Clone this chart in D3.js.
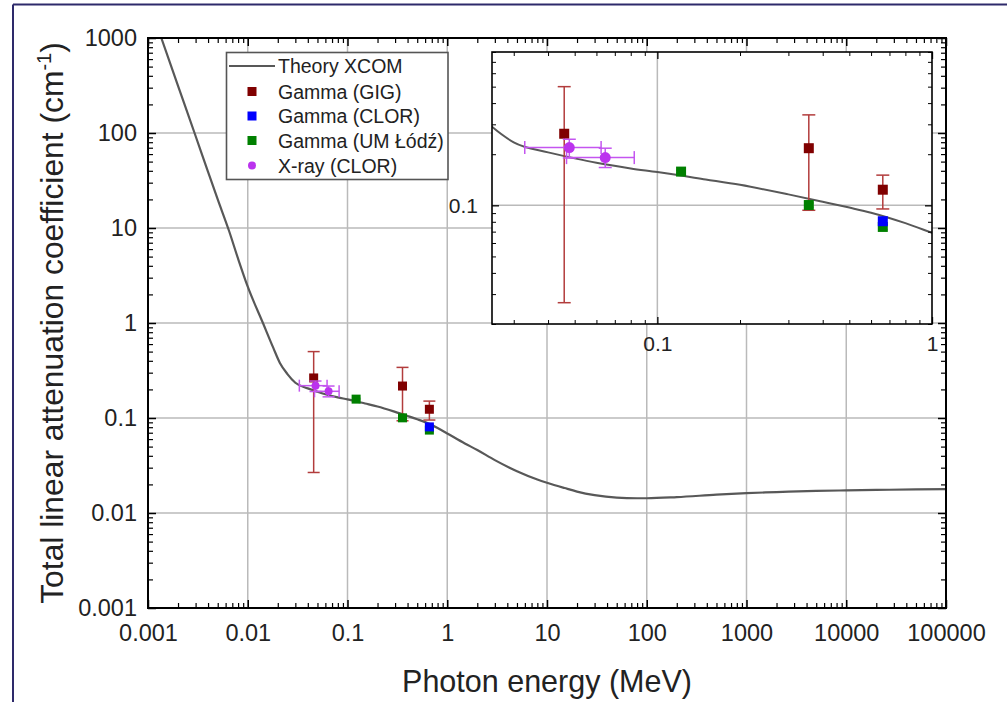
<!DOCTYPE html>
<html><head><meta charset="utf-8">
<script src="https://cdn.jsdelivr.net/npm/d3@7"></script>
<style>
body{margin:0;background:#fff}
text{font-family:Arial,"Liberation Sans",sans-serif;fill:#222}
</style>
</head><body>
<svg id="chart" width="1007" height="702"></svg>
<script>
// ---------- data ----------
const xcomEnergy = [0.00136,0.002,0.003,0.004,0.005,0.0065,0.008,0.01,0.0142,0.018,0.021,0.025,0.03,0.04,0.05,0.06,0.08,0.1,0.15,0.2,0.3,0.4,0.5,0.6,0.8,1,1.5,2,3,5,8,10,15,20,30,50,80,100,200,500,1000,2000,5000,10000,20000,50000,100000];
const xcomMu     = [1000,314,93,39,20,9.3,4.75,2.41,1.0,0.55,0.38,0.29,0.235,0.205,0.189,0.178,0.165,0.157,0.142,0.132,0.116,0.105,0.097,0.0905,0.0785,0.0688,0.054,0.046,0.036,0.0275,0.0225,0.0208,0.0183,0.0168,0.0154,0.0145,0.0143,0.0143,0.0147,0.0156,0.0162,0.0166,0.0171,0.0173,0.0175,0.0177,0.0178];

const gigEnergy = [0.0458,0.356,0.662];
const gigMu     = [0.264,0.217,0.1236];
const gigLow    = [0.0267,0.0935,0.0952];
const gigHigh   = [0.50,0.341,0.1506];

const clorEnergy = [0.662];
const clorMu     = [0.0806];
const clorLow    = [0.0770];
const clorHigh   = [0.0842];

const lodzEnergy = [0.122,0.356,0.662];
const lodzMu     = [0.158,0.1004,0.0746];
const lodzLow    = [0.155,0.0975,0.0720];
const lodzHigh   = [0.161,0.1033,0.0772];

const xrayEnergy = [0.0478,0.0646];
const xrayMu     = [0.219,0.191];
const xrayELow   = [0.0329,0.0467];
const xrayEHigh  = [0.0624,0.0824];
const xrayLow    = [0.190,0.167];
const xrayHigh   = [0.245,0.217];

const xTickValues = [0.001,0.01,0.1,1,10,100,1000,10000,100000];
const xTickLabels = ["0.001","0.01","0.1","1","10","100","1000","10000","100000"];
const yTickValues = [0.001,0.01,0.1,1,10,100,1000];
const yTickLabels = ["0.001","0.01","0.1","1","10","100","1000"];
const insetXTickValues = [0.1,1];
const insetXTickLabels = ["0.1","1"];
const insetYTickValues = [0.1];
const insetYTickLabels = ["0.1"];

const legendLabels = ["Theory XCOM","Gamma (GIG)","Gamma (CLOR)","Gamma (UM Łódź)","X-ray (CLOR)"];

const C = {xcom:"#585858", gig:"#800000", gigErr:"#b23c3c", clor:"#0000ff", lodz:"#008000", xray:"#bb33ee", xrayErr:"#c455f0", grid:"#bababa"};

// ---------- helpers ----------
function minorTicks(domain){
  const out=[];
  const a=Math.floor(Math.log10(domain[0])), b=Math.ceil(Math.log10(domain[1]));
  for(let e=a;e<b;e++) for(let m=2;m<=9;m++){const v=m*Math.pow(10,e); if(v>=domain[0]*0.9999 && v<=domain[1]*1.0001) out.push(v);}
  return out;
}
function styleAxis(g,w){
  g.select(".domain").remove();
  g.selectAll(".tick line").attr("stroke","#000").attr("stroke-width",w);
}

const svg = d3.select("#chart");

// outer frame
svg.append("line").attr("x1",13).attr("x2",1007).attr("y1",4.5).attr("y2",4.5).attr("stroke","#2e2a6b").attr("stroke-width",2);
svg.append("line").attr("x1",13).attr("x2",13).attr("y1",4.5).attr("y2",702).attr("stroke","#2e2a6b").attr("stroke-width",2);

// ---------- main plot ----------
const L=148,R=946,T=38,B=608;
const x = d3.scaleLog().domain([1e-3,1e5]).range([L,R]);
const y = d3.scaleLog().domain([1e-3,1e3]).range([B,T]);

svg.append("defs").append("clipPath").attr("id","mainClip").append("rect").attr("x",L).attr("y",T).attr("width",R-L).attr("height",B-T);

const grid = svg.append("g");
grid.selectAll("line.v").data(xTickValues.slice(1,-1)).join("line")
  .attr("x1",d=>x(d)).attr("x2",d=>x(d)).attr("y1",T).attr("y2",B)
  .attr("stroke",C.grid).attr("stroke-width",1.5);
grid.selectAll("line.h").data(yTickValues.slice(1,-1)).join("line")
  .attr("y1",d=>y(d)).attr("y2",d=>y(d)).attr("x1",L).attr("x2",R)
  .attr("stroke",C.grid).attr("stroke-width",1.5);

const line = d3.line().x(d=>x(d[0])).y(d=>y(d[1])).curve(d3.curveMonotoneX);
const xcom = xcomEnergy.map((e,i)=>[e,xcomMu[i]]);
svg.append("path").attr("clip-path","url(#mainClip)").attr("d",line(xcom))
  .attr("fill","none").attr("stroke",C.xcom).attr("stroke-width",2.2);

function drawPoints(g,xs,ys,opt){
  const {E,M,lo,hi,eLo,eHi,color,errColor,shape,size,cap} = opt;
  const eg=g.append("g").attr("stroke",errColor).attr("stroke-width",1.5);
  E.forEach((e,i)=>{
    if(lo){
      eg.append("line").attr("x1",xs(e)).attr("x2",xs(e)).attr("y1",ys(lo[i])).attr("y2",ys(hi[i]));
      [lo[i],hi[i]].forEach(v=>eg.append("line").attr("x1",xs(e)-cap).attr("x2",xs(e)+cap).attr("y1",ys(v)).attr("y2",ys(v)));
    }
    if(eLo){
      eg.append("line").attr("y1",ys(M[i])).attr("y2",ys(M[i])).attr("x1",xs(eLo[i])).attr("x2",xs(eHi[i]));
      [eLo[i],eHi[i]].forEach(v=>eg.append("line").attr("y1",ys(M[i])-cap).attr("y2",ys(M[i])+cap).attr("x1",xs(v)).attr("x2",xs(v)));
    }
  });
  const pts=E.map((e,i)=>[e,M[i]]);
  if(shape==="square"){
    g.append("g").selectAll("rect").data(pts).join("rect")
      .attr("x",d=>xs(d[0])-size/2).attr("y",d=>ys(d[1])-size/2).attr("width",size).attr("height",size).attr("fill",color);
  } else {
    g.append("g").selectAll("circle").data(pts).join("circle")
      .attr("cx",d=>xs(d[0])).attr("cy",d=>ys(d[1])).attr("r",size/2).attr("fill",color);
  }
}

function drawAllSeries(g,xs,ys,sq,ci,cap){
  drawPoints(g,xs,ys,{E:gigEnergy,M:gigMu,lo:gigLow,hi:gigHigh,color:C.gig,errColor:C.gigErr,shape:"square",size:sq,cap:cap});
  drawPoints(g,xs,ys,{E:lodzEnergy,M:lodzMu,lo:lodzLow,hi:lodzHigh,color:C.lodz,errColor:C.lodz,shape:"square",size:sq,cap:cap*0.7});
  drawPoints(g,xs,ys,{E:clorEnergy,M:clorMu,lo:clorLow,hi:clorHigh,color:C.clor,errColor:C.clor,shape:"square",size:sq,cap:cap*0.7});
  drawPoints(g,xs,ys,{E:xrayEnergy,M:xrayMu,lo:xrayLow,hi:xrayHigh,eLo:xrayELow,eHi:xrayEHigh,color:C.xray,errColor:C.xrayErr,shape:"circle",size:ci,cap:cap});
}
drawAllSeries(svg.append("g"),x,y,9,8,6);

// main axes
const fs=23.5;
const ax1=svg.append("g").attr("transform",`translate(0,${B})`)
  .call(d3.axisBottom(x).tickValues(xTickValues).tickSizeInner(-8).tickSizeOuter(0).tickPadding(16).tickFormat((d,i)=>xTickLabels[i]));
styleAxis(ax1,1.5); ax1.selectAll("text").attr("font-size",fs).attr("font-family","Arial, Liberation Sans, sans-serif").attr("fill","#222");
styleAxis(svg.append("g").attr("transform",`translate(0,${B})`).call(d3.axisBottom(x).tickValues(minorTicks(x.domain())).tickSizeInner(-5).tickSizeOuter(0).tickFormat("")),1.2);
styleAxis(svg.append("g").attr("transform",`translate(0,${T})`).call(d3.axisTop(x).tickValues(xTickValues).tickSizeInner(-8).tickSizeOuter(0).tickFormat("")),1.5);
styleAxis(svg.append("g").attr("transform",`translate(0,${T})`).call(d3.axisTop(x).tickValues(minorTicks(x.domain())).tickSizeInner(-5).tickSizeOuter(0).tickFormat("")),1.2);
const ay1=svg.append("g").attr("transform",`translate(${L},0)`)
  .call(d3.axisLeft(y).tickValues(yTickValues).tickSizeInner(-8).tickSizeOuter(0).tickPadding(11).tickFormat((d,i)=>yTickLabels[i]));
styleAxis(ay1,1.5); ay1.selectAll("text").attr("font-size",fs).attr("font-family","Arial, Liberation Sans, sans-serif").attr("fill","#222");
styleAxis(svg.append("g").attr("transform",`translate(${L},0)`).call(d3.axisLeft(y).tickValues(minorTicks(y.domain())).tickSizeInner(-5).tickSizeOuter(0).tickFormat("")),1.2);
styleAxis(svg.append("g").attr("transform",`translate(${R},0)`).call(d3.axisRight(y).tickValues(yTickValues).tickSizeInner(-8).tickSizeOuter(0).tickFormat("")),1.5);
styleAxis(svg.append("g").attr("transform",`translate(${R},0)`).call(d3.axisRight(y).tickValues(minorTicks(y.domain())).tickSizeInner(-5).tickSizeOuter(0).tickFormat("")),1.2);
svg.append("rect").attr("x",L).attr("y",T).attr("width",R-L).attr("height",B-T).attr("fill","none").attr("stroke","#000").attr("stroke-width",2);

// titles
svg.append("text").attr("x",(L+R)/2).attr("y",692).attr("text-anchor","middle").attr("font-size",30.5).text("Photon energy (MeV)");
const yt=svg.append("text").attr("transform",`translate(63,${(T+B)/2}) rotate(-90)`).attr("text-anchor","middle").attr("font-size",31.8);
yt.append("tspan").text("Total linear attenuation coefficient (cm");
yt.append("tspan").attr("font-size",20).attr("dy",-12).text("-1");
yt.append("tspan").attr("dy",12).text(")");

// legend
const lg=svg.append("g");
lg.append("rect").attr("x",226.5).attr("y",52.5).attr("width",221.5).attr("height",127).attr("fill","#fff").attr("stroke","#555").attr("stroke-width",1.6);
const rowY=[66,91.5,116,140.5,165.5];
lg.append("line").attr("x1",229).attr("x2",275).attr("y1",rowY[0]).attr("y2",rowY[0]).attr("stroke",C.xcom).attr("stroke-width",2.2);
[C.gig,C.clor,C.lodz].forEach((c,i)=>lg.append("rect").attr("x",252-4.5).attr("y",rowY[i+1]-4.5).attr("width",9).attr("height",9).attr("fill",c));
lg.append("circle").attr("cx",252).attr("cy",rowY[4]).attr("r",4).attr("fill",C.xray);
lg.selectAll("text").data(legendLabels).join("text").attr("x",278).attr("y",(d,i)=>rowY[i]+7).attr("font-size",19.5).text(d=>d);

// ---------- inset ----------
const iL=492,iR=932,iT=52,iB=324;
const ix=d3.scaleLog().domain([0.025,1]).range([iL,iR]);
const iy=d3.scaleLog().domain([0.02,0.8]).range([iB,iT]);
const ins=svg.append("g");
ins.append("rect").attr("x",iL).attr("y",iT).attr("width",iR-iL).attr("height",iB-iT).attr("fill","#fff");
svg.select("defs").append("clipPath").attr("id","insClip").append("rect").attr("x",iL).attr("y",iT).attr("width",iR-iL).attr("height",iB-iT);
ins.selectAll("line.v").data(insetXTickValues.slice(0,1)).join("line").attr("x1",d=>ix(d)).attr("x2",d=>ix(d)).attr("y1",iT).attr("y2",iB).attr("stroke",C.grid).attr("stroke-width",1.5);
ins.selectAll("line.h").data(insetYTickValues).join("line").attr("y1",d=>iy(d)).attr("y2",d=>iy(d)).attr("x1",iL).attr("x2",iR).attr("stroke",C.grid).attr("stroke-width",1.5);
const iline=d3.line().x(d=>ix(d[0])).y(d=>iy(d[1])).curve(d3.curveMonotoneX);
ins.append("path").attr("clip-path","url(#insClip)").attr("d",iline(xcom)).attr("fill","none").attr("stroke",C.xcom).attr("stroke-width",2);
drawAllSeries(ins.append("g"),ix,iy,10,11,6.5);

const ifs=21;
const ixa=ins.append("g").attr("transform",`translate(0,${iB})`).call(d3.axisBottom(ix).tickValues(insetXTickValues).tickSizeInner(-7).tickSizeOuter(0).tickPadding(12).tickFormat((d,i)=>insetXTickLabels[i]));
styleAxis(ixa,1.3); ixa.selectAll("text").attr("font-size",ifs).attr("font-family","Arial, Liberation Sans, sans-serif").attr("fill","#222");
styleAxis(ins.append("g").attr("transform",`translate(0,${iB})`).call(d3.axisBottom(ix).tickValues(minorTicks(ix.domain())).tickSizeInner(-4).tickSizeOuter(0).tickFormat("")),1);
styleAxis(ins.append("g").attr("transform",`translate(0,${iT})`).call(d3.axisTop(ix).tickValues(insetXTickValues).tickSizeInner(-7).tickSizeOuter(0).tickFormat("")),1.3);
styleAxis(ins.append("g").attr("transform",`translate(0,${iT})`).call(d3.axisTop(ix).tickValues(minorTicks(ix.domain())).tickSizeInner(-4).tickSizeOuter(0).tickFormat("")),1);
const iya=ins.append("g").attr("transform",`translate(${iL},0)`).call(d3.axisLeft(iy).tickValues(insetYTickValues).tickSizeInner(-7).tickSizeOuter(0).tickPadding(14).tickFormat((d,i)=>insetYTickLabels[i]));
styleAxis(iya,1.3); iya.selectAll("text").attr("font-size",ifs).attr("font-family","Arial, Liberation Sans, sans-serif").attr("fill","#222");
styleAxis(ins.append("g").attr("transform",`translate(${iL},0)`).call(d3.axisLeft(iy).tickValues(minorTicks(iy.domain())).tickSizeInner(-4).tickSizeOuter(0).tickFormat("")),1);
styleAxis(ins.append("g").attr("transform",`translate(${iR},0)`).call(d3.axisRight(iy).tickValues(insetYTickValues).tickSizeInner(-7).tickSizeOuter(0).tickFormat("")),1.3);
styleAxis(ins.append("g").attr("transform",`translate(${iR},0)`).call(d3.axisRight(iy).tickValues(minorTicks(iy.domain())).tickSizeInner(-4).tickSizeOuter(0).tickFormat("")),1);
ins.append("rect").attr("x",iL).attr("y",iT).attr("width",iR-iL).attr("height",iB-iT).attr("fill","none").attr("stroke","#000").attr("stroke-width",1.6);
</script>
</body></html>
